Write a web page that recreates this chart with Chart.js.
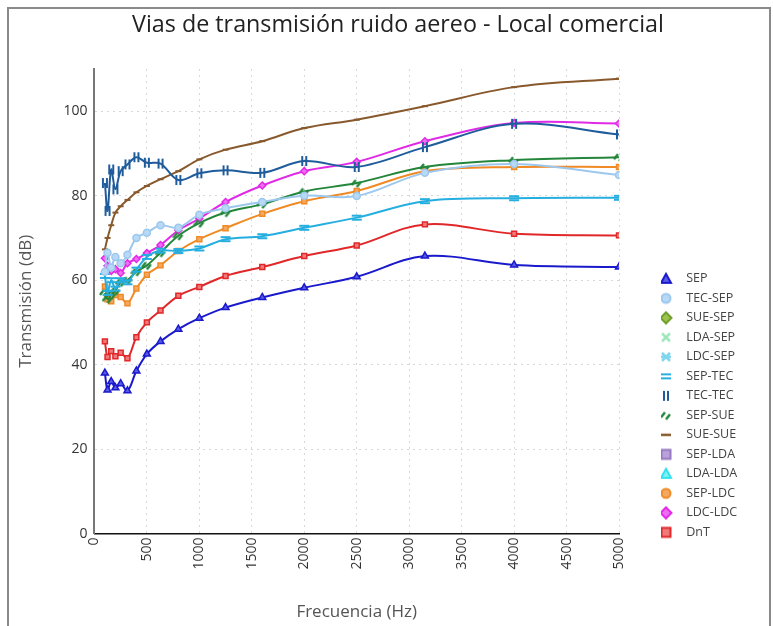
<!DOCTYPE html>
<html>
<head>
<meta charset="utf-8">
<script src="https://cdn.jsdelivr.net/npm/chart.js@4.4.1/dist/chart.umd.min.js"></script>
<style>
  html, body { margin: 0; padding: 0; background: #fff; overflow: hidden; width: 773px; height: 626px; }
  #frame { position: absolute; left: 7px; top: 7px; width: 764px; height: 640px; border: 2px solid #8a8a8a; box-sizing: border-box; }
  #wrap { position: absolute; left: 10px; top: 9px; width: 774px; height: 617px; }
</style>
</head>
<body>
<div id="frame"></div>
<div id="wrap"><canvas id="c"></canvas></div>
<script>
// Third-octave band centre frequencies (Hz)
const freqs = [100, 125, 160, 200, 250, 315, 400, 500, 630, 800, 1000, 1250, 1600, 2000, 2500, 3150, 4000, 5000];

// Transmission per path (dB)
const SEP     = [38, 34, 36, 34.5, 35.5, 33.8, 38.5, 42.5, 45.5, 48.4, 51, 53.5, 55.9, 58.2, 60.8, 65.7, 63.6, 63.1];
const TEC_SEP = [62, 66.5, 63, 65.5, 64, 66, 70, 71.2, 73, 72.4, 75.5, 77, 78.5, 80, 79.9, 85.4, 87.5, 84.9];
const SUE_SEP = [];
const LDA_SEP = [];
const LDC_SEP = [];
const SEP_TEC = [61, 57, 60, 58, 60, 59.5, 62.5, 65.5, 67, 66.9, 67.5, 69.7, 70.4, 72.4, 74.8, 78.7, 79.4, 79.5];
const TEC_TEC = [83, 76.4, 86.2, 81.5, 85.8, 87.4, 89.1, 87.8, 87.6, 83.7, 85.3, 86, 85.4, 88.2, 86.8, 91.5, 97, 94.5];
const SEP_SUE = [57, 55.5, 56.5, 57.5, 59.5, 60, 62, 63.5, 66.5, 70.5, 73.5, 76, 78, 81, 83, 86.8, 88.4, 89.1];
const SUE_SUE = [67.3, 70, 73, 76, 77.5, 79, 80.8, 82.3, 83.9, 85.8, 88.6, 90.9, 92.9, 96, 98, 101.2, 105.7, 107.7];
const SEP_LDA = [];
const LDA_LDA = [];
const SEP_LDC = [58.5, 55.5, 55, 56.5, 56, 54.5, 58, 61.3, 63.5, 66.9, 69.7, 72.3, 75.7, 78.7, 81.1, 85.8, 86.8, 86.8];
const LDC_LDC = [65.2, 63.4, 62.2, 62.6, 61.7, 64, 65, 66.4, 68.3, 71.8, 74.6, 78.5, 82.4, 85.8, 88, 92.9, 97.2, 97.1];
const DnT     = [45.5, 41.8, 43.2, 42, 42.8, 41.5, 46.5, 50, 52.8, 56.3, 58.4, 61, 63.1, 65.7, 68.2, 73.2, 71, 70.6];

const yTicks = [0, 20, 40, 60, 80, 100];

const FONT = '"Open Sans", "Noto Sans", sans-serif';

// Small marker glyphs drawn onto canvases (used on the lines and in the legend)
function drawGlyph(ctx, kind, cx, cy, stroke, fill) {
  ctx.lineWidth = 2;
  ctx.strokeStyle = stroke;
  ctx.fillStyle = fill;
  ctx.lineCap = 'butt';
  ctx.beginPath();
  switch (kind) {
    case 'triangle':
      ctx.moveTo(cx, cy - 5); ctx.lineTo(cx + 5, cy + 4); ctx.lineTo(cx - 5, cy + 4); ctx.closePath();
      ctx.fill(); ctx.stroke(); break;
    case 'circle':
      ctx.arc(cx, cy, 4.5, 0, Math.PI * 2); ctx.fill(); ctx.stroke(); break;
    case 'rectRot':
      ctx.moveTo(cx, cy - 5.5); ctx.lineTo(cx + 5.5, cy); ctx.lineTo(cx, cy + 5.5); ctx.lineTo(cx - 5.5, cy); ctx.closePath();
      ctx.fill(); ctx.stroke(); break;
    case 'rect':
      ctx.rect(cx - 4.5, cy - 4.5, 9, 9); ctx.fill(); ctx.stroke(); break;
    case 'crossRot':
      ctx.lineWidth = 2.5;
      ctx.moveTo(cx - 4, cy - 4); ctx.lineTo(cx + 4, cy + 4); ctx.moveTo(cx + 4, cy - 4); ctx.lineTo(cx - 4, cy + 4); ctx.stroke(); break;
    case 'star':
      ctx.lineWidth = 2.5;
      ctx.moveTo(cx - 4, cy - 4); ctx.lineTo(cx + 4, cy + 4); ctx.moveTo(cx + 4, cy - 4); ctx.lineTo(cx - 4, cy + 4);
      ctx.moveTo(cx - 5, cy); ctx.lineTo(cx + 5, cy); ctx.stroke(); break;
    case 'equal':
      ctx.moveTo(cx - 5, cy - 2); ctx.lineTo(cx + 5, cy - 2); ctx.moveTo(cx - 5, cy + 2); ctx.lineTo(cx + 5, cy + 2); ctx.stroke(); break;
    case 'bars':
      ctx.moveTo(cx - 2, cy - 5); ctx.lineTo(cx - 2, cy + 5); ctx.moveTo(cx + 2, cy - 5); ctx.lineTo(cx + 2, cy + 5); ctx.stroke(); break;
    case 'slashes':
      ctx.lineWidth = 2.5;
      ctx.moveTo(cx - 5, cy + 2); ctx.lineTo(cx - 1, cy - 3); ctx.moveTo(cx, cy + 4); ctx.lineTo(cx + 4, cy - 1); ctx.stroke(); break;
    case 'dash':
      ctx.lineWidth = 2.5;
      ctx.moveTo(cx - 5, cy); ctx.lineTo(cx + 5, cy); ctx.stroke(); break;
    case 'dashSmall':
      ctx.moveTo(cx - 3, cy); ctx.lineTo(cx + 3, cy); ctx.stroke(); break;
  }
}

function glyphCanvas(kind, stroke, fill, w, h, cx) {
  const c = document.createElement('canvas');
  c.width = w; c.height = h;
  drawGlyph(c.getContext('2d'), kind, cx, h / 2, stroke, fill);
  return c;
}

const builtin = ['triangle', 'circle', 'rectRot', 'rect', 'crossRot', 'star'];

// kind: legend symbol; onLine: marker used along the curve
const series = [
  { label: 'SEP',     data: SEP,     color: '#1a1acc', fill: '#5a5ae6', kind: 'triangle', onLine: 'triangle' },
  { label: 'TEC-SEP', data: TEC_SEP, color: '#9cc8ee', fill: '#b8d9f5', kind: 'circle',   onLine: 'circle' },
  { label: 'SUE-SEP', data: SUE_SEP, color: '#6f9e2c', fill: '#9cc44c', kind: 'rectRot',  onLine: 'rectRot' },
  { label: 'LDA-SEP', data: LDA_SEP, color: '#9fe6bb', fill: '#c2f2d4', kind: 'crossRot', onLine: 'crossRot' },
  { label: 'LDC-SEP', data: LDC_SEP, color: '#7fd6ee', fill: '#b0e8f6', kind: 'star',     onLine: 'star' },
  { label: 'SEP-TEC', data: SEP_TEC, color: '#25aee0', fill: '#25aee0', kind: 'equal',    onLine: 'equal' },
  { label: 'TEC-TEC', data: TEC_TEC, color: '#1f5c9c', fill: '#1f5c9c', kind: 'bars',     onLine: 'bars' },
  { label: 'SEP-SUE', data: SEP_SUE, color: '#23863a', fill: '#23863a', kind: 'slashes',  onLine: 'slashes' },
  { label: 'SUE-SUE', data: SUE_SUE, color: '#87592c', fill: '#87592c', kind: 'dash',     onLine: 'dashSmall' },
  { label: 'SEP-LDA', data: SEP_LDA, color: '#9678c0', fill: '#b9a2da', kind: 'rect',     onLine: 'rect' },
  { label: 'LDA-LDA', data: LDA_LDA, color: '#2fe2ee', fill: '#7ff0f6', kind: 'triangle', onLine: 'triangle' },
  { label: 'SEP-LDC', data: SEP_LDC, color: '#f08a24', fill: '#f5a860', kind: 'circle',   onLine: 'rect' },
  { label: 'LDC-LDC', data: LDC_LDC, color: '#e02ae6', fill: '#ee6ef2', kind: 'rectRot',  onLine: 'rectRot' },
  { label: 'DnT',     data: DnT,     color: '#e0282a', fill: '#f07a7a', kind: 'rect',     onLine: 'rect' }
];

const datasets = series.map(s => ({
  label: s.label,
  data: s.data.map((v, i) => ({ x: freqs[i], y: v })),
  borderColor: s.color,
  backgroundColor: s.fill,
  pointBorderColor: s.color,
  pointBackgroundColor: s.fill,
  borderWidth: 2,
  pointBorderWidth: 1.5,
  pointRadius: s.onLine === 'triangle' ? 4 : 3.5,
  pointStyle: builtin.includes(s.onLine) ? s.onLine : glyphCanvas(s.onLine, s.color, s.fill, 12, 12, 6),
  tension: 0.35,
  fill: false,
  legendGlyph: glyphCanvas(s.kind, s.color, s.fill, 32, 14, 8)
}));

// Fixed-width legend column, nudged down towards the bottom of the plot
const legendBox = {
  id: 'legendBox',
  beforeUpdate(chart) {
    const lg = chart.legend;
    if (!lg || lg._boxed) return;
    const fit = lg.fit;
    const draw = lg.draw;
    lg.fit = function () {
      fit.call(this);
      if (!this.isHorizontal()) this.width = 123;
    };
    lg.draw = function () {
      const ctx = this.ctx;
      ctx.save();
      ctx.translate(0, 12);
      draw.call(this);
      ctx.restore();
    };
    lg._boxed = true;
  }
};

new Chart(document.getElementById('c'), {
  type: 'line',
  data: { datasets },
  plugins: [legendBox],
  options: {
    responsive: true,
    maintainAspectRatio: false,
    animation: false,
    layout: { padding: { left: 2, right: 0, bottom: 0, top: 0 } },
    plugins: {
      tooltip: { enabled: false },
      title: {
        display: true,
        text: 'Vias de transmisión ruido aereo - Local comercial',
        color: '#222',
        font: { family: FONT, size: 23.3, weight: 'normal' },
        padding: { top: 2, bottom: 30 }
      },
      legend: {
        position: 'right',
        align: 'end',
        fullSize: false,
        labels: {
          usePointStyle: true,
          boxWidth: 12,
          boxHeight: 8,
          padding: 7,
          color: '#444',
          font: { family: FONT, size: 12.5 },
          generateLabels(chart) {
            const items = Chart.defaults.plugins.legend.labels.generateLabels(chart);
            items.forEach(it => { it.pointStyle = chart.data.datasets[it.datasetIndex].legendGlyph; });
            return items;
          }
        }
      }
    },
    scales: {
      x: {
        type: 'linear',
        min: 0,
        max: 5000,
        ticks: {
          stepSize: 500,
          minRotation: 90,
          maxRotation: 90,
          padding: 4,
          color: '#333',
          font: { family: FONT, size: 14 },
          callback: v => String(v)
        },
        grid: { color: '#d8d8d8', drawTicks: false },
        border: { display: true, color: '#111', width: 1.5, dash: [2, 4] },
        title: {
          display: true,
          text: 'Frecuencia (Hz)',
          color: '#555',
          font: { family: FONT, size: 17 },
          padding: { top: 28, bottom: 4 }
        }
      },
      y: {
        min: 0,
        max: 110,
        afterBuildTicks(scale) { scale.ticks = yTicks.map(v => ({ value: v })); },
        ticks: {
          padding: 7,
          color: '#333',
          font: { family: FONT, size: 14 }
        },
        grid: { color: '#d8d8d8', drawTicks: false },
        border: { display: true, color: '#777', width: 2, dash: [2, 4] },
        title: {
          display: true,
          text: 'Transmisión (dB)',
          color: '#555',
          font: { family: FONT, size: 17 },
          padding: { top: 4, bottom: 20 }
        }
      },
      // empty margin between the plot and the legend
      gap: {
        type: 'linear',
        position: 'right',
        display: true,
        grid: { display: false },
        border: { display: false },
        ticks: { display: false },
        afterFit(scale) { scale.width = 42; }
      }
    }
  }
});
</script>
</body>
</html>
